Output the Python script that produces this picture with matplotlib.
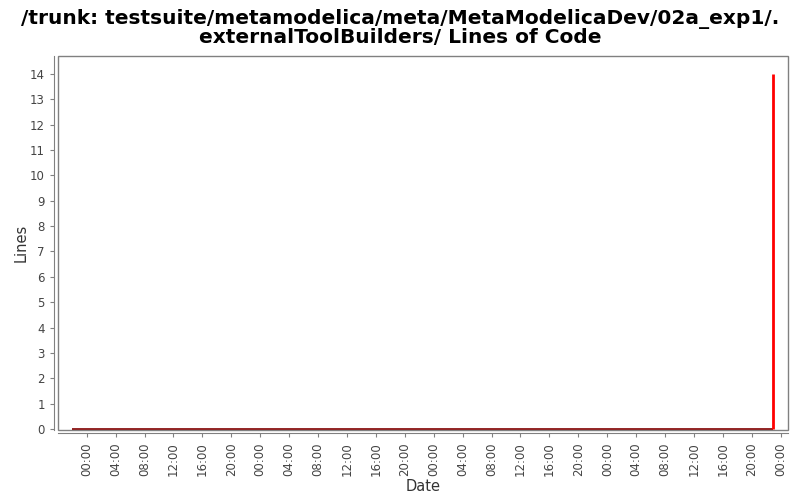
import datetime as dt
import matplotlib
matplotlib.use('Agg')
import matplotlib.pyplot as plt
import matplotlib.dates as mdates
from matplotlib.patches import Rectangle

# data
day0 = dt.datetime(2010, 1, 4)
dates = [day0 - dt.timedelta(hours=2),
         day0 + dt.timedelta(hours=94, minutes=54),
         day0 + dt.timedelta(hours=94, minutes=54)]
lines = [0, 0, 14]

title = '/trunk: testsuite/metamodelica/meta/MetaModelicaDev/02a_exp1/.\nexternalToolBuilders/ Lines of Code'

fig = plt.figure(figsize=(8, 5), dpi=100)
ax = fig.add_axes([0.0725, 0.14, 0.9125, 0.748])

# flat part looks darker, the jump is bright red
ax.plot(dates[:2], lines[:2], color='#800000', linewidth=1.2, solid_capstyle='butt')
ax.plot(dates[1:], lines[1:], color='#ff0000', linewidth=2, solid_capstyle='butt')

ax.set_xlim(day0 - dt.timedelta(hours=3.97), day0 + dt.timedelta(hours=97))
ax.set_ylim(-0.04, 14.71)
ax.set_yticks(range(0, 15))
ax.xaxis.set_major_locator(mdates.HourLocator(byhour=range(0, 24, 4)))
ax.xaxis.set_major_formatter(mdates.DateFormatter('%H:%M'))

for s in ['top', 'right']:
    ax.spines[s].set_visible(False)
ax.spines['left'].set_position(('outward', 2.9))
ax.spines['bottom'].set_position(('outward', 2.2))
for s in ['left', 'bottom']:
    ax.spines[s].set_color('#808080')
ax.add_patch(Rectangle((0, 0), 1, 1, transform=ax.transAxes, fill=False,
                       edgecolor='#808080', linewidth=1, clip_on=False))

ax.tick_params(axis='both', labelsize=8.5, labelcolor='#444444', color='#808080',
               length=3, width=0.8)
ax.tick_params(axis='x', labelrotation=90)
ax.set_xlabel('Date', fontsize=10.5, color='#333333', labelpad=2)
ax.set_ylabel('Lines', fontsize=10.5, color='#333333', labelpad=1)
fig.suptitle(title, fontsize=14.5, fontweight='bold', y=0.982, linespacing=0.95)

fig.savefig('out.png', dpi=100)
